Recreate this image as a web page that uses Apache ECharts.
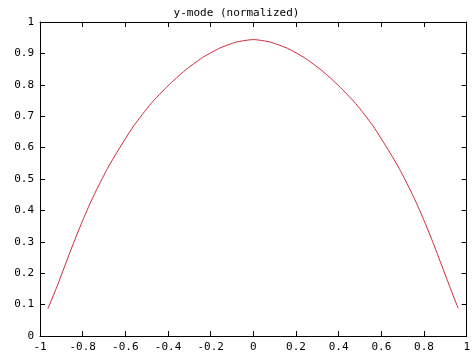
<!DOCTYPE html>
<html>
<head>
<meta charset="utf-8">
<script src="https://cdn.jsdelivr.net/npm/echarts@6/dist/echarts.min.js"></script>
<style>
html,body{margin:0;padding:0;background:#fff;}
#c{width:473px;height:362px;}
</style>
</head>
<body>
<div id="c"></div>
<script>
var titleText = 'y-mode (normalized)';
var xValues = [-0.963, -0.92, -0.88, -0.84, -0.80, -0.76, -0.72, -0.68, -0.64, -0.60, -0.56, -0.48, -0.40, -0.32, -0.24, -0.16, -0.08,
               0.00,
               0.08, 0.16, 0.24, 0.32, 0.40, 0.48, 0.56, 0.60, 0.64, 0.68, 0.72, 0.76, 0.80, 0.84, 0.88, 0.92, 0.96];
var yValues = [0.087, 0.158, 0.230, 0.301, 0.368, 0.430, 0.486, 0.538, 0.584, 0.628, 0.670, 0.740, 0.797, 0.846, 0.886, 0.916, 0.936,
               0.944,
               0.936, 0.916, 0.886, 0.846, 0.797, 0.740, 0.670, 0.628, 0.584, 0.538, 0.486, 0.430, 0.368, 0.301, 0.230, 0.158, 0.088];
var xTicks = [-1, -0.8, -0.6, -0.4, -0.2, 0, 0.2, 0.4, 0.6, 0.8, 1];
var yTicks = [0, 0.1, 0.2, 0.3, 0.4, 0.5, 0.6, 0.7, 0.8, 0.9, 1];

var data = xValues.map(function (x, i) { return [x, yValues[i]]; });
var font = '"DejaVu Sans Mono", "Liberation Mono", monospace';
var lineStyle = { color: '#000', width: 1 };

function fmt(v) { return String(Math.round(v * 10) / 10); }

function axis(kind, pos, showLabels) {
  var isX = kind === 'x';
  var ticks = isX ? xTicks : yTicks;
  return {
    type: 'value',
    min: ticks[0], max: ticks[ticks.length - 1],
    interval: Math.round((ticks[1] - ticks[0]) * 10) / 10,
    position: pos,
    axisLine: { show: true, onZero: false, lineStyle: lineStyle },
    axisTick: { show: true, inside: true, length: 5, lineStyle: lineStyle },
    splitLine: { show: false },
    axisLabel: showLabels
      ? { fontFamily: font, fontSize: 11, color: '#000', margin: 6, formatter: fmt, showMinLabel: true, showMaxLabel: true }
      : { show: false }
  };
}

var chart = echarts.init(document.getElementById('c'), null, { renderer: 'canvas' });
chart.setOption({
  backgroundColor: '#fff',
  animation: false,
  title: {
    text: titleText, left: 'center', top: 3,
    textStyle: { fontFamily: font, fontSize: 11, fontWeight: 'normal', color: '#000' }
  },
  grid: { left: 40, right: 4, top: 22, bottom: 26 },
  xAxis: [axis('x', 'bottom', true), axis('x', 'top', false)],
  yAxis: [axis('y', 'left', true), axis('y', 'right', false)],
  series: [{
    type: 'line', data: data, xAxisIndex: 0, yAxisIndex: 0,
    smooth: 0.2, showSymbol: false,
    lineStyle: { color: '#d0283a', width: 1 }
  }]
});
</script>
</body>
</html>
